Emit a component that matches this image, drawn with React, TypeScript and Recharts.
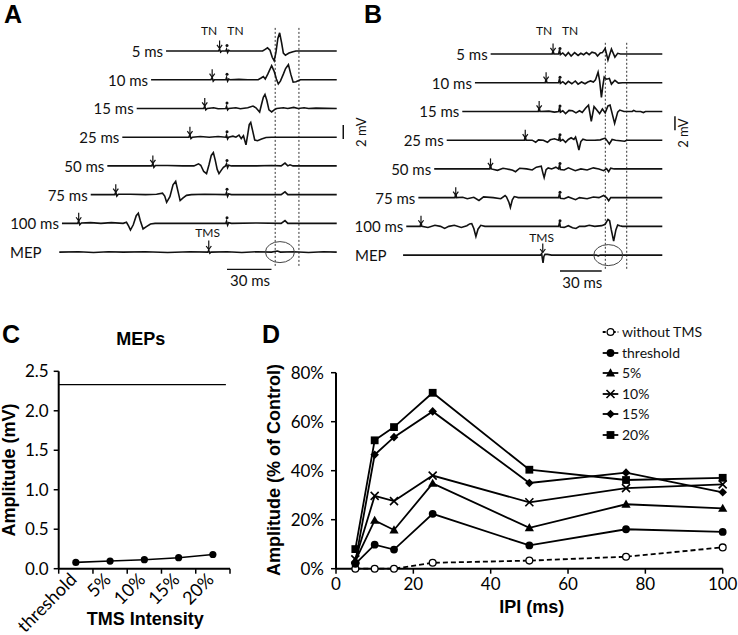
import React from "react";
import {
  ComposedChart,
  Legend,
  Line,
  LineChart,
  ReferenceDot,
  ReferenceLine,
  Scatter,
  XAxis,
  YAxis,
} from "recharts";

const FONT = "Lato, 'Noto Sans', sans-serif";
const BOLD = "'Liberation Sans', Arial, sans-serif";
const INK = "#111";

// ---------- A / B: example traces. t = ms from the 2nd TN stimulus, a = mV
type Pt = [number, number];

const ROW_NAMES = ["5 ms", "10 ms", "15 ms", "25 ms", "50 ms", "75 ms", "100 ms", "MEP"];
const IPI_ROWS = [5, 10, 15, 25, 50, 75, 100];

const A_5: Pt[] = [[-41.1,0],[-5.7,0],[-5,0.25],[-4.3,-0.15],[-3.5,0],[-0.8,0],[-0.3,0.25],[0.4,-0.2],[1.1,0.1],[2,0],[24,0],[25.5,0.2],[27.3,0.45],[29,0.1],[30.5,-0.9],[31.8,-1.4],[33,-0.2],[34.3,1.8],[35.5,2.6],[36.8,1.2],[38,-0.3],[39.4,-0.6],[41.8,-0.3],[44.5,-0.1],[46.5,0],[74,0]];
const A_10: Pt[] = [[-51.2,0],[-10.8,0],[-10,0.3],[-9.3,-0.2],[-8.5,0],[-0.8,0],[-0.3,0.3],[0.4,-0.2],[1.1,0.1],[2,0],[8,0.05],[14,0],[21,0],[23,0.25],[24.5,0.45],[25.8,0.1],[27.5,0.8],[30.1,2.0],[31.8,1.2],[33.3,0.1],[34.6,-0.6],[36,-0.2],[38,0.8],[39.5,1.6],[41.4,2.15],[43,0.8],[44.6,-0.35],[46.5,-0.3],[49.5,0],[74,0]];
const A_15: Pt[] = [[-60.9,0],[-15.7,0],[-15,0.35],[-14.3,-0.2],[-13.3,0],[-9,0.1],[-6,-0.05],[-0.8,0],[-0.3,0.3],[0.4,-0.2],[1.1,0],[6,0.1],[9,-0.05],[14,0.1],[17.5,0.35],[19.5,0.1],[22,-0.5],[23.3,0.6],[24.5,1.6],[25.6,2.0],[26.8,1.2],[28.3,-0.2],[30.1,-0.5],[31.8,-0.2],[33.5,0],[38,0.1],[41,0],[45,0.15],[48,0],[52,0.1],[55,0],[60,0.05],[74,0]];
const A_25: Pt[] = [[-70.6,0],[-25.7,0],[-25,0.35],[-24.3,-0.2],[-23.3,0],[-18,0.1],[-12,0],[-6,0.1],[-0.8,0],[-0.3,0.3],[0.4,-0.25],[1.1,0],[4,0.15],[6,0],[8.1,0.3],[9.6,-0.2],[11.1,0.2],[12.8,-1.1],[13.9,0.3],[15,1.8],[16,2.1],[17.2,1.0],[18.7,-0.4],[20.6,-0.5],[23.3,-0.25],[26.3,-0.05],[30,0],[74,0]];
const A_50: Pt[] = [[-80.7,0],[-50.7,0],[-50,0.35],[-49.3,-0.2],[-48.3,0.05],[-40,0.05],[-30,0],[-22.3,0],[-19.2,0.3],[-17.7,0.1],[-15.7,-0.8],[-13.8,-1.1],[-12.1,0.2],[-10.6,1.5],[-9.2,1.9],[-7.9,0.8],[-6.6,-0.5],[-5.4,-1.1],[-3.8,-0.6],[-2.4,-0.2],[-1,0],[-0.3,0.3],[0.4,-0.25],[1.1,0.1],[3,0],[20,0],[30,0.05],[36.5,0],[39.1,0.4],[41,0],[42.5,0.15],[44.5,0],[74,0]];
const A_75: Pt[] = [[-91.9,0],[-75.7,0],[-75,0.35],[-74.3,-0.2],[-73.3,0.05],[-65,0.05],[-55,0],[-47.5,0.05],[-43.5,0.2],[-42,-0.2],[-40.7,-1.1],[-38.5,-0.3],[-36.4,1.4],[-34.6,1.9],[-33.2,0.6],[-31.6,-0.85],[-29.8,-0.5],[-27.3,-0.1],[-24,0],[-15,0.05],[-0.8,0],[-0.3,0.3],[0.4,-0.25],[1.1,0.1],[3,0],[36.5,0],[39.1,0.4],[41,0],[43,0],[74,0]];
const A_100: Pt[] = [[-111.3,0],[-100.7,0],[-100,0.35],[-99.3,-0.2],[-98.2,0.05],[-92,0.1],[-85,0],[-78,0.1],[-70,0],[-67.8,0.15],[-66.3,-0.4],[-65.1,-0.95],[-63.2,-0.2],[-61.2,1.1],[-59.8,1.45],[-58.5,0.4],[-56.6,-0.8],[-54.6,-0.5],[-51.6,-0.1],[-48.5,0],[-0.8,0],[-0.3,0.3],[0.4,-0.25],[1.1,0.1],[3,0],[20,0.05],[36.5,0],[39.1,0.4],[41,0],[74,0]];
const A_MEP: Pt[] = [[-113.1,0],[-100,0.05],[-90,-0.05],[-80,0.05],[-70,0],[-55,0.05],[-40,-0.05],[-25,0.05],[-13,0],[-12.3,0.2],[-11.6,-0.15],[-10.8,0],[0,0.05],[10,-0.05],[20,0.05],[30,0],[34,0.15],[36,0],[45,0.05],[55,-0.05],[65,0.05],[74,0]];

const B_5: Pt[] = [[-49.9,0],[-5.6,0],[-5,0.5],[-4.4,0],[-1,0],[-0.3,0.6],[0.3,-0.1],[2,0.15],[4,-0.25],[6,0.2],[8,-0.3],[10.5,0.2],[13,-0.2],[15,0.1],[17,-0.1],[19,0.2],[21,-0.1],[23,0.25],[25.5,0.1],[27,-0.3],[29,0.15],[30.5,0.2],[32.5,0.8],[34.5,-0.85],[37,0.7],[39.5,-0.45],[41.5,0.1],[43.5,0],[73.6,0]];
const B_10: Pt[] = [[-61.2,0],[-10.6,0],[-10,0.55],[-9.4,0],[-1,0],[-0.3,0.6],[0.3,-0.1],[2,0.15],[4,-0.2],[6,0.2],[8.5,-0.15],[11,0.25],[13,-0.2],[15.5,0.1],[18,-0.15],[20,0.1],[22,0.25],[24,0.1],[25.5,0.4],[27.4,1.5],[28.5,0.3],[29.8,-2.1],[30.8,-0.5],[31.8,0.8],[33.5,0.5],[35.5,0.6],[37,-0.2],[39.5,0.35],[42,-0.05],[45,0],[73.6,0]];
const B_15: Pt[] = [[-70.3,0],[-15.6,0],[-15,0.55],[-14.4,0],[-8,0.05],[-4,-0.1],[-1,0],[-0.3,0.6],[0.3,-0.1],[2,0.1],[4,-0.3],[6.5,0.15],[9,0.1],[11.5,-0.2],[14,0.1],[16,-0.15],[18.5,0.5],[20.5,0.9],[22.5,-1.4],[24.5,0.7],[26.5,0.2],[28.5,-0.3],[30.5,0.35],[32.5,-0.2],[34.5,0.8],[36,0.9],[39.3,-1.7],[41.5,-0.1],[43,0.2],[46,0],[52,0],[53,0.15],[54.5,0],[58,0],[60,-0.15],[61.5,0],[73.6,0]];
const B_25: Pt[] = [[-81.5,0],[-25.6,0],[-25,0.55],[-24.4,0],[-20,0],[-17.5,-0.3],[-15.5,0.05],[-12,0],[-9,-0.3],[-7,0.05],[-4,0.2],[-1,0],[-0.3,0.6],[0.3,-0.1],[2,0.1],[4,-0.3],[6,0.1],[8,0.35],[10,0.1],[11.2,0.45],[12.4,-0.4],[13.6,-1.4],[15,-0.2],[16.5,0.15],[19,0],[25,0],[29,0.05],[32.5,0.3],[34,-0.1],[35.5,-0.55],[37.5,0.1],[40,0],[46.5,-0.15],[48,0],[73.6,0]];
const B_50: Pt[] = [[-90.5,0],[-50.6,0],[-50,0.55],[-49.4,0],[-45,-0.2],[-41,0.1],[-38,0],[-34,-0.2],[-32,-0.4],[-29,0.1],[-24,0],[-20,-0.15],[-17,0.25],[-13.5,0.4],[-12.3,-0.6],[-11.4,-1.25],[-10,-0.1],[-8.5,0.15],[-6,0],[-3,0.25],[-1,0],[-0.3,0.6],[0.3,-0.1],[3,-0.15],[6,0.15],[11,-0.25],[15,0],[19.5,-0.15],[24,0.15],[28,0],[31.4,-0.25],[33.5,0.05],[35,-0.4],[36.5,0.1],[39,0],[73.6,0]];
const B_75: Pt[] = [[-101.9,0],[-75.6,0],[-75,0.55],[-74.4,0],[-70,0.05],[-66.7,-0.15],[-62,0.05],[-58.3,-0.4],[-55,0.1],[-48,0],[-42.6,-0.15],[-39.5,0.3],[-38.5,0.1],[-36.7,-0.7],[-35.7,-1.4],[-34.3,-0.3],[-32.9,0.15],[-30,0],[-5,0],[-1,0],[-0.3,0.6],[0.3,-0.1],[3,-0.15],[6,0.1],[11.2,-0.3],[14,0],[19.5,-0.15],[24,0.1],[28,0],[31.4,0.3],[33.5,0],[35,-0.45],[36.5,0],[39,0],[73.6,0]];
const B_100: Pt[] = [[-110.6,0],[-100.6,0],[-100,0.55],[-99.4,0],[-95,-0.15],[-90,0.15],[-86,0],[-83,-0.3],[-80,0],[-76,0.15],[-71,-0.15],[-67,0.1],[-65,0.35],[-63.5,0.4],[-62,-0.3],[-60.5,-1.45],[-59,-0.4],[-57,0.15],[-54,0],[-1,0],[-0.3,0.6],[0.3,-0.1],[3,-0.15],[6,0.1],[9,-0.2],[11.5,-0.3],[14,0],[18,0],[21,0.15],[25,0],[30,0.1],[32.5,0.3],[34.5,1.0],[35.7,0.8],[36.8,-0.4],[38.6,-2.1],[40.2,-0.5],[41.5,0.2],[43,0.1],[45,0],[73.6,0]];
const B_MEP: Pt[] = [[-112.9,0],[-14,0],[-13.2,0.2],[-12.6,-0.6],[-12.2,-1.1],[-11.6,-0.2],[-10.8,0.1],[-9,0.1],[-6,0],[26,0],[27.5,-0.1],[29,0],[73.6,0]];

const A_TRACES = [A_5, A_10, A_15, A_25, A_50, A_75, A_100, A_MEP];
const B_TRACES = [B_5, B_10, B_15, B_25, B_50, B_75, B_100, B_MEP];

// TMS pulse time on the MEP trace; scale bars
const A_TMS = -12.3;
const B_TMS = -12.4;
const SCALE_MS = 30;
const SCALE_MV = 2;

const A_NOTES = [
  { t: -12.1, v: 3, text: "TN", size: 12 },
  { t: 5.7, v: 3, text: "TN", size: 12 },
  { t: -13.1, v: -25.9, text: "TMS", size: 12 },
  { t: 15.5, v: -32.7, text: "30 ms", size: 15 },
  { t: 90.7, v: -11.6, text: "2 mV", size: 13, rotate: -90 },
];
const B_NOTES = [
  { t: -11.5, v: 3.4, text: "TN", size: 12 },
  { t: 7.2, v: 3.4, text: "TN", size: 12 },
  { t: -13.2, v: -26.2, text: "TMS", size: 12 },
  { t: 16, v: -32.5, text: "30 ms", size: 15 },
  { t: 88.5, v: -11.3, text: "2 mV", size: 13, rotate: -90 },
];

// ---------- C: MEP amplitude vs TMS intensity
const MEP_LEVELS = ["threshold", "5%", "10%", "15%", "20%"];
const MEP_AMPS = [0.08, 0.097, 0.114, 0.139, 0.18];
const CONTROL_MEP = 2.33;
const C_Y_TICKS = [0, 0.5, 1, 1.5, 2, 2.5];

// ---------- D: amplitude (% of control) vs IPI
const IPI = [5, 10, 15, 25, 50, 75, 100];
const NO_TMS = [0, 0, 0, 2.4, 3.3, 4.9, 8.7];
const THRESHOLD = [2.0, 9.8, 7.8, 22.4, 9.5, 16.1, 15.0];
const P5 = [3.2, 19.7, 15.8, 34.8, 16.7, 26.3, 24.6];
const P10 = [3.8, 29.7, 27.6, 38.0, 27.1, 32.9, 34.4];
const P15 = [2.8, 46.5, 53.7, 64.2, 35.0, 39.2, 31.2];
const P20 = [8.0, 52.4, 57.8, 71.8, 40.4, 36.2, 37.1];
const D_X_TICKS = [0, 20, 40, 60, 80, 100];
const D_Y_TICKS = [0, 20, 40, 60, 80];

const D_SERIES = [
  { key: "none", name: "without TMS", marker: "open", values: NO_TMS, dashed: true },
  { key: "thr", name: "threshold", marker: "circle", values: THRESHOLD },
  { key: "p5", name: "5%", marker: "triangle", values: P5 },
  { key: "p10", name: "10%", marker: "x", values: P10 },
  { key: "p15", name: "15%", marker: "diamond", values: P15 },
  { key: "p20", name: "20%", marker: "square", values: P20 },
];

// ---------- trace panel geometry
const TRACE_H = 300;
const ROW0_Y = 51;
const PX_PER_MV = 7;
const ROW_GAP = 4.104;

const ArrowShape = (p: any) => {
  const { cx, cy } = p;
  const len = p.payload.len ?? 8;
  const tip = cy - 2.5;
  return (
    <g>
      <line x1={cx} y1={tip - len} x2={cx} y2={tip} stroke={INK} strokeWidth={1.2} />
      <polyline
        points={`${cx - 2.6},${tip - 3.6} ${cx},${tip} ${cx + 2.6},${tip - 3.6}`}
        fill="none"
        stroke={INK}
        strokeWidth={1.2}
      />
    </g>
  );
};

const DotShape = (p: any) => <circle cx={p.cx} cy={p.cy - 5.5} r={1.5} fill={INK} />;

const TextShape = (p: any) => {
  const d = p.payload;
  const x = p.cx + (d.dx || 0);
  return (
    <text
      x={x}
      y={p.cy}
      textAnchor={d.anchor || "middle"}
      dominantBaseline="central"
      fontSize={d.size || 15}
      fontFamily={FONT}
      fill={INK}
      transform={d.rotate ? `rotate(${d.rotate} ${x} ${p.cy})` : undefined}
    >
      {d.text}
    </text>
  );
};

function TracePanel(props: any) {
  const { left, top, width, zeroX, pxPerMs, traces, tms, guides, ellipseT, timeBarV, mvBar, notes, mepLabelT } = props;
  const xDomain = [(left - zeroX) / pxPerMs, (left + width - zeroX) / pxPerMs];
  const yDomain = [-(TRACE_H - ROW0_Y) / PX_PER_MV, ROW0_Y / PX_PER_MV];
  const lines = traces.map((tr: Pt[], i: number) => tr.map(([t, a]) => ({ t, v: a - i * ROW_GAP })));
  const mepV = -IPI_ROWS.length * ROW_GAP;
  const labels = ROW_NAMES.map((name, i) =>
    i < IPI_ROWS.length
      ? { t: traces[i][0][0], v: -i * ROW_GAP, text: name, anchor: "end", dx: -3, size: 15 }
      : { t: mepLabelT, v: mepV, text: name, anchor: "start", size: 15 }
  );
  const arrows = [
    ...IPI_ROWS.map((ipi, i) => ({ t: -ipi, v: -i * ROW_GAP, len: 8 })),
    { t: tms, v: mepV, len: 9 },
  ];
  const dots = IPI_ROWS.map((_, i) => ({ t: 0, v: -i * ROW_GAP }));

  return (
    <div style={{ position: "absolute", left, top }}>
      <ComposedChart width={width} height={TRACE_H} margin={{ top: 0, right: 0, bottom: 0, left: 0 }}>
        <XAxis dataKey="t" type="number" domain={xDomain} hide />
        <YAxis dataKey="v" type="number" domain={yDomain} hide />
        {guides.map((g: any, i: number) => (
          <ReferenceLine
            key={`g${i}`}
            segment={[{ x: g.x, y: g.y1 }, { x: g.x, y: g.y2 }]}
            stroke="#333"
            strokeWidth={1}
            strokeDasharray="2 2"
          />
        ))}
        <ReferenceLine segment={[{ x: 0, y: timeBarV }, { x: SCALE_MS, y: timeBarV }]} stroke={INK} strokeWidth={1.3} />
        <ReferenceLine
          segment={[{ x: mvBar.x, y: mvBar.y }, { x: mvBar.x, y: mvBar.y + SCALE_MV }]}
          stroke={INK}
          strokeWidth={1.5}
        />
        {lines.map((d: any, i: number) => (
          <Line
            key={`tr${i}`}
            data={d}
            dataKey="v"
            type="linear"
            stroke={INK}
            strokeWidth={1.6}
            dot={false}
            activeDot={false}
            isAnimationActive={false}
          />
        ))}
        <ReferenceDot
          x={ellipseT}
          y={mepV}
          r={1}
          shape={(p: any) => <ellipse cx={p.cx} cy={p.cy} rx={14.5} ry={10.5} fill="none" stroke="#444" strokeWidth={1} />}
        />
        <Scatter data={arrows} shape={ArrowShape} isAnimationActive={false} />
        <Scatter data={dots} shape={DotShape} isAnimationActive={false} />
        <Scatter data={[...labels, ...notes]} shape={TextShape} isAnimationActive={false} />
      </ComposedChart>
    </div>
  );
}

// ---------- markers for D
function Marker({ kind, cx, cy }: any) {
  switch (kind) {
    case "open":
      return <circle cx={cx} cy={cy} r={3.4} fill="#fff" stroke="#000" strokeWidth={1.3} />;
    case "circle":
      return <circle cx={cx} cy={cy} r={3.9} fill="#000" />;
    case "triangle":
      return <polygon points={`${cx},${cy - 4.8} ${cx + 4.6},${cy + 3.4} ${cx - 4.6},${cy + 3.4}`} fill="#000" />;
    case "x":
      return (
        <path
          d={`M${cx - 4},${cy - 4}L${cx + 4},${cy + 4}M${cx - 4},${cy + 4}L${cx + 4},${cy - 4}`}
          stroke="#000"
          strokeWidth={1.6}
        />
      );
    case "diamond":
      return <polygon points={`${cx},${cy - 4.3} ${cx + 4.3},${cy} ${cx},${cy + 4.3} ${cx - 4.3},${cy}`} fill="#000" />;
    default:
      return <rect x={cx - 3.9} y={cy - 3.9} width={7.8} height={7.8} fill="#000" />;
  }
}

const renderLegend = () => (
  <div style={{ fontFamily: FONT, fontSize: 14, color: INK }}>
    {D_SERIES.map((s) => (
      <div key={s.key} style={{ display: "flex", alignItems: "center", height: 20.5 }}>
        <svg width={18} height={12}>
          <line
            x1={0.7}
            y1={6}
            x2={16.3}
            y2={6}
            stroke="#000"
            strokeWidth={1.8}
            strokeDasharray={s.dashed ? "3 2" : undefined}
          />
          <Marker kind={s.marker} cx={8.5} cy={6} />
        </svg>
        <span style={{ marginLeft: 2, lineHeight: 1 }}>{s.name}</span>
      </div>
    ))}
  </div>
);

// ---------- C chart helpers
const C_W = 260;
const C_MARGIN = { top: 41.3, right: 30, bottom: 16.3, left: 8.7 };
const C_YAXIS_W = 50;
const C_BAND = (C_W - C_MARGIN.left - C_MARGIN.right - C_YAXIS_W) / MEP_LEVELS.length;

function CTick(p: any) {
  const i = p.payload?.value;
  if (i == null || i >= MEP_LEVELS.length) return null;
  const x = p.x + C_BAND / 2 + 2;
  const y = p.y + 5;
  return (
    <text x={x} y={y} textAnchor="end" fontSize={18} fontFamily={FONT} fill="#000" transform={`rotate(-45 ${x} ${y})`}>
      {MEP_LEVELS[i]}
    </text>
  );
}

const tickStyle = { fill: "#000", fontSize: 17, fontFamily: FONT };
const axisStyle = { stroke: "#000", strokeWidth: 2 };
const tickLineStyle = { stroke: "#000", strokeWidth: 1.5 };

export default function App() {
  const cData = MEP_LEVELS.map((level, i) => ({ pos: i + 0.5, amp: MEP_AMPS[i], level }));
  const dData = IPI.map((ipi, i) => {
    const row: any = { ipi };
    D_SERIES.forEach((s) => (row[s.key] = s.values[i]));
    return row;
  });

  return (
    <div style={{ position: "absolute", left: 0, top: 0, width: 738, height: 635, background: "#fff" }}>
      <TracePanel
        left={0}
        top={0}
        width={372}
        zeroX={227}
        pxPerMs={1.483}
        traces={A_TRACES}
        tms={A_TMS}
        guides={[
          { x: 32.5, y1: 3.3, y2: -30.8 },
          { x: 48.5, y1: 3.3, y2: -30.8 },
        ]}
        ellipseT={35.7}
        timeBarV={-31.2}
        mvBar={{ x: 78.4, y: -12.57 }}
        notes={A_NOTES}
        mepLabelT={-146.3}
      />
      <TracePanel
        left={350}
        top={3}
        width={388}
        zeroX={560}
        pxPerMs={1.39}
        traces={B_TRACES}
        tms={B_TMS}
        guides={[
          { x: 32.6, y1: 1.6, y2: -30.9 },
          { x: 48.0, y1: 1.6, y2: -30.9 },
        ]}
        ellipseT={34.7}
        timeBarV={-31.0}
        mvBar={{ x: 82.7, y: -10.9 }}
        notes={B_NOTES}
        mepLabelT={-147.5}
      />

      <div style={{ position: "absolute", left: 0, top: 330 }}>
        <LineChart width={C_W} height={305} data={cData} margin={C_MARGIN}>
          <XAxis
            dataKey="pos"
            type="number"
            domain={[0, MEP_LEVELS.length]}
            ticks={[0, 1, 2, 3, 4, 5]}
            interval={0}
            height={50}
            tickSize={5}
            tickMargin={2}
            tick={CTick}
            axisLine={axisStyle}
            tickLine={tickLineStyle}
          />
          <YAxis
            type="number"
            domain={[0, 2.5]}
            ticks={C_Y_TICKS}
            width={C_YAXIS_W}
            tickSize={5}
            tickMargin={5}
            tickFormatter={(v: number) => v.toFixed(1)}
            tick={tickStyle}
            axisLine={axisStyle}
            tickLine={tickLineStyle}
          />
          <ReferenceLine
            segment={[{ x: 0, y: CONTROL_MEP }, { x: 4.88, y: CONTROL_MEP }]}
            stroke="#000"
            strokeWidth={1.2}
          />
          <Line
            dataKey="amp"
            stroke="#000"
            strokeWidth={1.6}
            dot={{ r: 3.6, fill: "#000", stroke: "#000", strokeWidth: 0 }}
            activeDot={false}
            isAnimationActive={false}
          />
        </LineChart>
      </div>

      <div style={{ position: "absolute", left: 260, top: 322 }}>
        <LineChart width={478} height={313} data={dData} margin={{ top: 50.7, right: 15.3, bottom: 26.3, left: 16 }}>
          <XAxis
            dataKey="ipi"
            type="number"
            domain={[0, 100]}
            ticks={D_X_TICKS}
            interval={0}
            height={40}
            tickSize={5}
            tickMargin={4}
            tick={tickStyle}
            axisLine={axisStyle}
            tickLine={tickLineStyle}
          />
          <YAxis
            type="number"
            domain={[0, 80]}
            ticks={D_Y_TICKS}
            width={60}
            tickSize={5}
            tickMargin={7}
            tickFormatter={(v: number) => `${v}%`}
            tick={tickStyle}
            axisLine={axisStyle}
            tickLine={tickLineStyle}
          />
          {D_SERIES.map((s) => (
            <Line
              key={s.key}
              dataKey={s.key}
              name={s.name}
              type="linear"
              stroke="#000"
              strokeWidth={1.8}
              strokeDasharray={s.dashed ? "5 3" : undefined}
              dot={(p: any) => <Marker key={`${s.key}-${p.index}`} kind={s.marker} cx={p.cx} cy={p.cy} />}
              activeDot={false}
              isAnimationActive={false}
            />
          ))}
          <Legend
            layout="vertical"
            align="center"
            verticalAlign="middle"
            wrapperStyle={{ left: 342, top: 0, width: 130 }}
            content={renderLegend}
          />
        </LineChart>
      </div>

      <svg width={738} height={635} style={{ position: "absolute", left: 0, top: 0, pointerEvents: "none" }}>
        <g fontFamily={BOLD} fontWeight={700} fill="#000">
          <text x={4} y={23} fontSize={25}>A</text>
          <text x={364} y={23} fontSize={25}>B</text>
          <text x={2} y={343} fontSize={25}>C</text>
          <text x={262} y={343} fontSize={25}>D</text>
          <text x={140.8} y={345} fontSize={18} textAnchor="middle">MEPs</text>
          <text x={145.3} y={624.5} fontSize={18} textAnchor="middle">TMS Intensity</text>
          <text x={15} y={470} fontSize={18} textAnchor="middle" transform="rotate(-90 15 470)">Amplitude (mV)</text>
          <text x={531.7} y={613} fontSize={18} textAnchor="middle">IPI (ms)</text>
          <text x={280} y={470} fontSize={18} textAnchor="middle" transform="rotate(-90 280 470)">
            Amplitude (% of Control)
          </text>
        </g>
      </svg>
    </div>
  );
}
